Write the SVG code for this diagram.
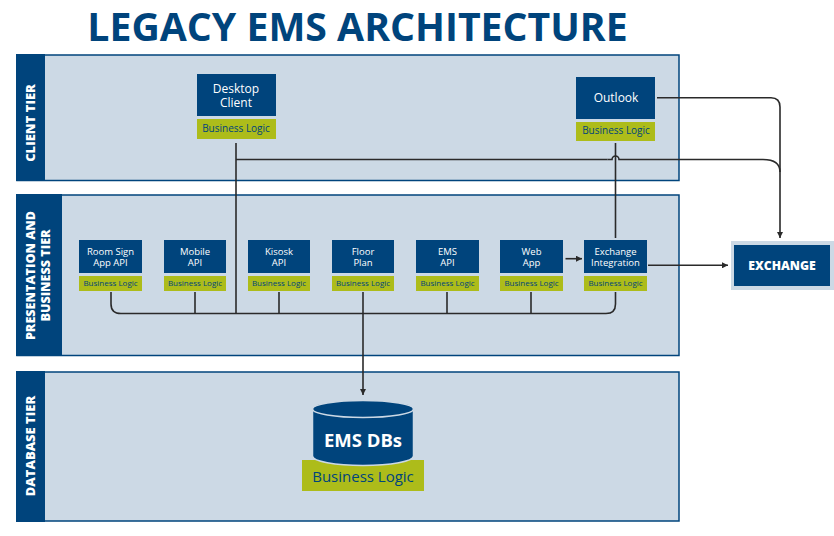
<svg xmlns="http://www.w3.org/2000/svg" width="834" height="536" viewBox="0 0 834 536">
<style>
text{font-family:"Open Sans","Noto Sans",sans-serif;text-anchor:middle}
.panel{fill:#ccd9e5;stroke:#00447c;stroke-width:1.5}
.band{fill:#00447c}
.tier{fill:#fff;font-weight:800;font-size:13px}
.box{fill:#00447c}
.bl{fill:#adbc1a}
.t1{fill:#fff;font-size:12px}
.t2{fill:#fff;font-size:9.5px}
.l1{fill:#00447c;font-size:10px}
.l2{fill:#00447c;font-size:8px}
.c{fill:none;stroke:#2a2a2a;stroke-width:1.6}
</style>
<defs>
<marker id="a" markerWidth="7" markerHeight="6" refX="6" refY="3" orient="auto" markerUnits="userSpaceOnUse"><path d="M0 0L6 3L0 6Z" fill="#2a2a2a"/></marker>
</defs>
<rect width="834" height="536" fill="#fff"/>
<text id="title" x="357.500" y="40.500" style="font-size:39.200px;font-weight:700;fill:#00447c">LEGACY EMS ARCHITECTURE</text>

<g id="client-tier">
<rect class="panel" x="17" y="55" width="662" height="125.500"/>
<rect class="band" x="16" y="54" width="29" height="127"/>
<text class="tier" transform="translate(35 123) rotate(-90)">CLIENT TIER</text>
</g>
<g id="presentation-tier">
<rect class="panel" x="17" y="195" width="662" height="160.500"/>
<rect class="band" x="16" y="194" width="46" height="162"/>
<text class="tier" style="font-size:12.600px" transform="translate(35 275.500) rotate(-90)">PRESENTATION AND</text>
<text class="tier" style="font-size:12.600px" transform="translate(50 275.500) rotate(-90)">BUSINESS TIER</text>
</g>
<g id="database-tier">
<rect class="panel" x="17" y="372" width="662" height="149"/>
<rect class="band" x="16" y="371" width="29" height="151"/>
<text class="tier" transform="translate(35 446) rotate(-90)">DATABASE TIER</text>
</g>

<g id="connectors">
<path class="c" d="M236 143V313.500"/>
<path class="c" d="M236 159.500H607.500"/>
<path class="c" d="M607.500 159.500H612a3.500 3.500 0 0 1 7 0H763Q780 159.500 780 172"/>
<path class="c" d="M657 97.700H771Q780 97.700 780 107V238" marker-end="url(#a)"/>
<path class="c" d="M615.500 143V238"/>
<path class="c" d="M111 292V304Q111 313.500 121 313.500H606Q615.500 313.500 615.500 304V292"/>
<path class="c" d="M195 292V313.500M279 292V313.500M447 292V313.500M531 292V313.500"/>
<path class="c" d="M363 292V395" marker-end="url(#a)"/>
<path class="c" d="M565.500 258.700H582" marker-end="url(#a)"/>
<path class="c" d="M648 265.300H728" marker-end="url(#a)"/>
</g>

<g id="desktop-client">
<rect class="box" x="197" y="74" width="79" height="42"/>
<text class="t1" x="236" y="93">Desktop</text><text class="t1" x="236" y="107">Client</text>
<rect class="bl" x="197" y="119" width="79" height="20"/>
<text class="l1" x="236" y="132">Business Logic</text>
</g>
<g id="outlook">
<rect class="box" x="576" y="77" width="79" height="42"/>
<text class="t1" x="616" y="102">Outlook</text>
<rect class="bl" x="576" y="122" width="79" height="19"/>
<text class="l1" x="616" y="134">Business Logic</text>
</g>

<g id="room-sign-api">
<rect class="box" x="79" y="240" width="63" height="33"/>
<text class="t2" x="110.500" y="255">Room Sign</text><text class="t2" x="110.500" y="266">App API</text>
<rect class="bl" x="79" y="276" width="63" height="15"/>
<text class="l2" x="110.500" y="286">Business Logic</text>
</g>
<g id="mobile-api">
<rect class="box" x="164" y="240" width="62" height="33"/>
<text class="t2" x="195" y="255">Mobile</text><text class="t2" x="195" y="266">API</text>
<rect class="bl" x="164" y="276" width="62" height="15"/>
<text class="l2" x="195" y="286">Business Logic</text>
</g>
<g id="kiosk-api">
<rect class="box" x="248" y="240" width="62" height="33"/>
<text class="t2" x="279" y="255">Kisosk</text><text class="t2" x="279" y="266">API</text>
<rect class="bl" x="248" y="276" width="62" height="15"/>
<text class="l2" x="279" y="286">Business Logic</text>
</g>
<g id="floor-plan">
<rect class="box" x="332" y="240" width="62" height="33"/>
<text class="t2" x="363" y="255">Floor</text><text class="t2" x="363" y="266">Plan</text>
<rect class="bl" x="332" y="276" width="62" height="15"/>
<text class="l2" x="363" y="286">Business Logic</text>
</g>
<g id="ems-api">
<rect class="box" x="416" y="240" width="63" height="33"/>
<text class="t2" x="447.500" y="255">EMS</text><text class="t2" x="447.500" y="266">API</text>
<rect class="bl" x="416" y="276" width="63" height="15"/>
<text class="l2" x="447.500" y="286">Business Logic</text>
</g>
<g id="web-app">
<rect class="box" x="500" y="240" width="63" height="33"/>
<text class="t2" x="531.500" y="255">Web</text><text class="t2" x="531.500" y="266">App</text>
<rect class="bl" x="500" y="276" width="63" height="15"/>
<text class="l2" x="531.500" y="286">Business Logic</text>
</g>
<g id="exchange-integration">
<rect class="box" x="584" y="240" width="63" height="33"/>
<text class="t2" x="615.500" y="255">Exchange</text><text class="t2" x="615.500" y="266">Integration</text>
<rect class="bl" x="584" y="276" width="63" height="15"/>
<text class="l2" x="615.500" y="286">Business Logic</text>
</g>

<g id="exchange">
<rect x="731" y="241" width="103" height="49" fill="#ccd9e5"/>
<rect class="box" x="734" y="245" width="96" height="41"/>
<text x="782" y="269.500" style="fill:#fff;font-size:12.200px;font-weight:800">EXCHANGE</text>
</g>

<g id="ems-dbs">
<rect class="bl" x="302" y="460" width="122" height="31"/>
<path d="M312.500 409V456A50.500 9.500 0 0 0 413.500 456V409Z" fill="#00447c" stroke="#ccd9e5" stroke-width="1.500"/>
<ellipse cx="363" cy="409" rx="50.500" ry="8.500" fill="#00447c" stroke="#ccd9e5" stroke-width="1.500"/>
<text x="363" y="447" style="fill:#fff;font-size:18.500px;font-weight:700">EMS DBs</text>
<text x="363" y="482" style="fill:#00447c;font-size:15px">Business Logic</text>
</g>
</svg>
